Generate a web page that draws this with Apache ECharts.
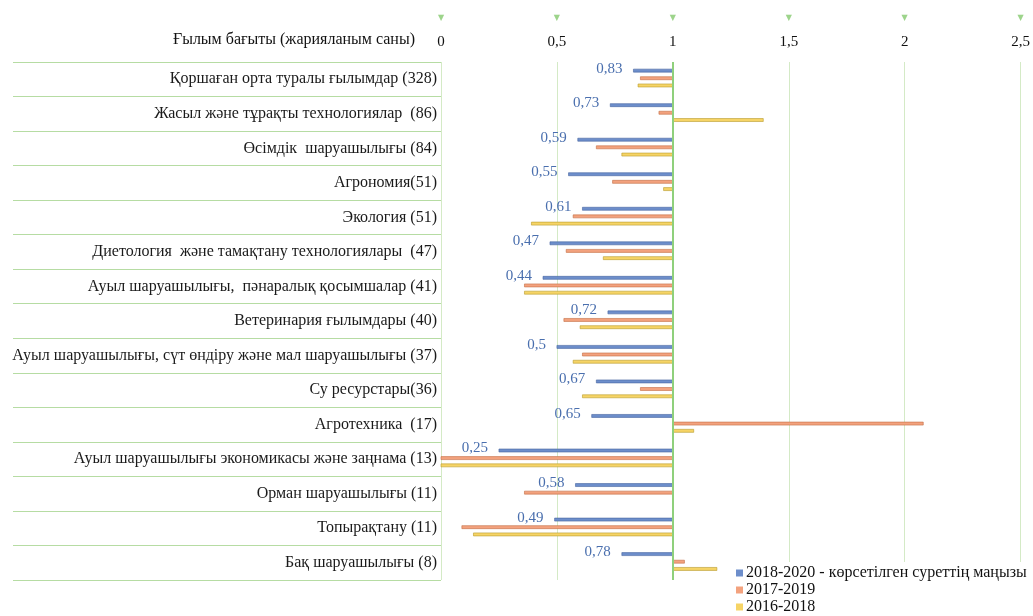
<!DOCTYPE html>
<html>
<head>
<meta charset="utf-8">
<script src="https://cdn.jsdelivr.net/npm/echarts@6/dist/echarts.min.js"></script>
<style>
  html, body { margin: 0; padding: 0; background: #fff; }
  #chart { width: 1033px; height: 616px; }
</style>
</head>
<body>
<div id="chart"></div>
<script>
// Research areas with publication counts
const categories = [
  'Қоршаған орта туралы ғылымдар (328)',
  'Жасыл және тұрақты технологиялар  (86)',
  'Өсімдік  шаруашылығы (84)',
  'Агрономия(51)',
  'Экология (51)',
  'Диетология  және тамақтану технологиялары  (47)',
  'Ауыл шаруашылығы,  пәнаралық қосымшалар (41)',
  'Ветеринария ғылымдары (40)',
  'Ауыл шаруашылығы, сүт өндіру және мал шаруашылығы (37)',
  'Су ресурстары(36)',
  'Агротехника  (17)',
  'Ауыл шаруашылығы экономикасы және заңнама (13)',
  'Орман шаруашылығы (11)',
  'Топырақтану (11)',
  'Бақ шаруашылығы (8)'
];

const seriesNames = ['2018-2020 - көрсетілген суреттің маңызы', '2017-2019', '2016-2018'];

// Indicator values per period (bars run from the reference level 1)
const values2018_2020 = [0.83, 0.73, 0.59, 0.55, 0.61, 0.47, 0.44, 0.72, 0.5, 0.67, 0.65, 0.25, 0.58, 0.49, 0.78];
const values2017_2019 = [0.86, 0.94, 0.67, 0.74, 0.57, 0.54, 0.36, 0.53, 0.61, 0.86, 2.08, 0, 0.36, 0.09, 1.05];
const values2016_2018 = [0.85, 1.39, 0.78, 0.96, 0.39, 0.70, 0.36, 0.60, 0.57, 0.61, 1.09, 0, null, 0.14, 1.19];

const axisTicks = [0, 0.5, 1, 1.5, 2, 2.5];
const referenceLevel = 1;

const SERIF = '"Liberation Serif", "Times New Roman", serif';
const fmt = v => String(v).replace('.', ',');

function toData(arr) {
  const out = [];
  arr.forEach((v, i) => { if (v !== null) out.push([v, i]); });
  return out;
}

function barRenderer(offsetRatio, fill, stroke, withLabel) {
  return function (params, api) {
    const v = api.value(0);
    const cat = api.value(1);
    const base = api.coord([referenceLevel, cat]);
    const tip = api.coord([v, cat]);
    const band = api.size([0, 1])[1];
    const cy = base[1] + band * offsetRatio;
    const h = 3;
    const x0 = Math.min(base[0], tip[0]);
    const w = Math.abs(tip[0] - base[0]);
    const children = [{
      type: 'rect',
      shape: { x: x0, y: cy - h / 2, width: w, height: h },
      style: { fill: fill, stroke: stroke, lineWidth: 0.6 }
    }];
    if (withLabel) {
      children.push({
        type: 'text',
        style: {
          text: fmt(v), x: tip[0] - 11, y: cy - 2,
          align: 'right', verticalAlign: 'middle',
          font: '15px ' + SERIF, fill: '#4a6fae'
        }
      });
    }
    return { type: 'group', children: children };
  };
}

const colors = [
  { fill: '#6d8ecb', stroke: '#46659f' },
  { fill: '#f3a27e', stroke: '#c36d43' },
  { fill: '#f6d466', stroke: '#b79a2c' }
];
const offsets = [-0.25, -0.03, 0.18];
const seriesValues = [values2018_2020, values2017_2019, values2016_2018];

const chart = echarts.init(document.getElementById('chart'), null, { renderer: 'canvas' });

const series = seriesValues.map((arr, k) => ({
  type: 'custom',
  name: seriesNames[k],
  itemStyle: { color: colors[k].fill, borderColor: colors[k].stroke },
  encode: { x: 0, y: 1 },
  data: toData(arr),
  renderItem: barRenderer(offsets[k], colors[k].fill, colors[k].stroke, k === 0),
  z: 3
}));

// Reference line at level 1
series[0].markLine = {
  silent: true,
  symbol: 'none',
  label: { show: false },
  lineStyle: { color: '#8fd07c', width: 2, type: 'solid' },
  data: [{ xAxis: referenceLevel }]
};

chart.setOption({
  animation: false,
  backgroundColor: '#fff',
  title: {
    text: 'Ғылым бағыты (жарияланым саны)',
    right: 618,
    top: 32,
    padding: 0,
    textStyle: { fontFamily: SERIF, fontSize: 16, fontWeight: 'normal', color: '#111' }
  },
  legend: {
    orient: 'vertical',
    left: 730,
    top: 562,
    height: 60,
    padding: [3, 4, 0, 6],
    backgroundColor: '#fff',
    itemWidth: 7,
    itemHeight: 7,
    itemGap: 1,
    icon: 'rect',
    data: seriesNames,
    textStyle: { fontFamily: SERIF, fontSize: 16, color: '#111', lineHeight: 16, padding: [0, 0, 0, -2] }
  },
  grid: { left: 441, right: 6, top: 62, bottom: 36, containLabel: false },
  xAxis: {
    type: 'value',
    position: 'top',
    min: axisTicks[0],
    max: axisTicks[axisTicks.length - 1],
    interval: 0.5,
    axisLine: { show: false },
    axisTick: { show: false },
    splitLine: { show: true, lineStyle: { color: '#d4eac6', width: 1 } },
    axisLabel: {
      margin: 11,
      formatter: v => '{t|▼}\n{v|' + fmt(v) + '}',
      rich: {
        t: { fontSize: 8, color: '#9dd48b', lineHeight: 30, fontFamily: 'DejaVu Sans' },
        v: { fontSize: 15, color: '#111', lineHeight: 18, fontFamily: SERIF }
      }
    }
  },
  yAxis: {
    type: 'category',
    inverse: true,
    data: categories,
    axisLine: { show: false },
    axisTick: { show: true, length: 428, lineStyle: { color: '#b6dca3', width: 1.2 } },
    axisLabel: { margin: 4, fontFamily: SERIF, fontSize: 16, color: '#1a1a1a' },
    splitLine: { show: false }
  },
  series: series
});
</script>
</body>
</html>
